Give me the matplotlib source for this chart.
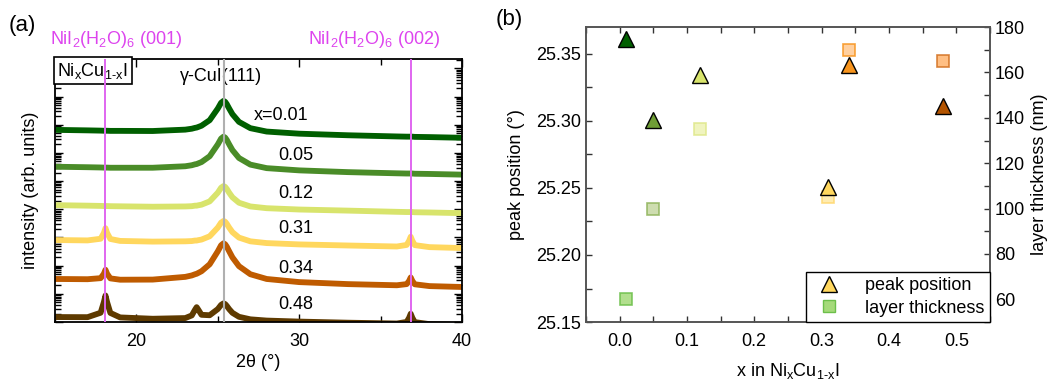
import matplotlib
matplotlib.use('Agg')
import matplotlib.pyplot as plt
from matplotlib.lines import Line2D
from matplotlib.ticker import LogLocator, NullFormatter, MultipleLocator
import numpy as np

plt.rcParams['font.family'] = ['Liberation Sans', 'DejaVu Sans']
plt.rcParams['mathtext.fontset'] = 'custom'
plt.rcParams['mathtext.rm'] = 'Liberation Sans'
plt.rcParams['mathtext.it'] = 'Liberation Sans'
plt.rcParams['font.size'] = 13

# ---------------- (a) XRD scans ----------------
two_theta = [15, 17, 17.8, 18.0, 18.1, 18.2, 18.4, 19, 21, 23, 23.4, 23.6, 23.7,
             23.8, 24.0, 24.5, 25.0, 25.2, 25.35, 25.45, 25.55, 25.7, 25.9, 26.3,
             27, 28, 30, 33, 36, 36.6, 36.75, 36.85, 36.95, 37.1, 38, 40]

i_001 = [101, 97, 95, 94, 94, 94, 93, 93, 92, 103, 111, 119, 122, 128, 142, 223,
         577, 921, 1076, 1001, 830, 575, 363, 194, 116, 88, 74, 65, 59, 58, 58,
         58, 58, 57, 56, 53]
i_005 = [101, 97, 95, 94, 94, 94, 93, 93, 93, 105, 114, 123, 126, 133, 148, 238,
         627, 1006, 1176, 1094, 905, 625, 392, 206, 120, 90, 75, 65, 59, 58, 58,
         58, 58, 57, 56, 53]
i_012 = [100, 96, 94, 93, 93, 93, 92, 91, 88, 90, 92, 96, 96, 99, 104, 136, 277,
         414, 476, 446, 378, 275, 190, 122, 90, 78, 70, 64, 58, 57, 57, 57, 57,
         56, 55, 52]
i_031 = [100, 97, 111, 178, 263, 178, 109, 93, 88, 90, 92, 96, 96, 99, 104, 136,
         277, 414, 476, 446, 378, 275, 190, 122, 90, 78, 70, 64, 59, 67, 94, 131,
         94, 66, 56, 52]
i_034 = [102, 100, 109, 156, 216, 156, 107, 96, 97, 121, 136, 150, 156, 167, 192,
         339, 977, 1597, 1876, 1741, 1433, 975, 593, 290, 150, 102, 79, 67, 61,
         67, 87, 116, 87, 66, 57, 53]
i_048 = [100, 99, 142, 337, 582, 337, 140, 97, 87, 92, 114, 182, 224, 183, 120,
         116, 192, 270, 306, 289, 249, 190, 141, 102, 83, 75, 69, 63, 59, 67, 94,
         131, 94, 66, 56, 52]

scans = [i_001, i_005, i_012, i_031, i_034, i_048]
scan_labels = ['x=0.01', '0.05', '0.12', '0.31', '0.34', '0.48']
offsets = [6.5e4, 3.2e3, 140, 8.1, 0.33, 0.015]
scan_colors = ['#005f00', '#4a8c28', '#d8e46c', '#ffd75e', '#bf5b00', '#5e3a00']
label_x = [27.2, 28.7, 28.7, 28.7, 28.7, 28.7]
label_y = [0.787, 0.635, 0.49, 0.357, 0.205, 0.065]

# ---------------- (b) peak position / thickness ----------------
x_ni = [0.01, 0.05, 0.12, 0.31, 0.34, 0.48]
peak_pos = [25.361, 25.301, 25.334, 25.251, 25.342, 25.311]
thickness = [60, 100, 135, 105, 170, 165]
tri_colors = ['#005f00', '#6f9d35', '#d8e46c', '#ffd75e', '#f7941d', '#b35400']
sq_face = ['#a5da7a', '#c6d8a2', '#eef3b4', '#ffe9a4', '#ffc890', '#ffb46e']
sq_edge = ['#6cbf4a', '#8fb45a', '#dfe88a', '#ffd870', '#f7941d', '#d27020']

fig = plt.figure(figsize=(10.5, 3.8), dpi=100)

ax = fig.add_axes([0.0524, 0.1526, 0.3876, 0.692])
for vals, off, col in zip(scans, offsets, scan_colors):
    ax.plot(two_theta, np.array(vals) * off, color=col, lw=4.2,
            solid_joinstyle='round')
ax.axvline(25.4, color='#b0b0b0', lw=1.5, zorder=5)
ax.axvline(18.1, color='#e066f0', lw=1.4, zorder=5)
ax.axvline(36.85, color='#e066f0', lw=1.4, zorder=5)
ax.set_yscale('log')
ax.set_xlim(15, 40)
ax.set_ylim(1, 10 ** 9.33)
ax.set_xticks([20, 30, 40])
ax.xaxis.set_minor_locator(MultipleLocator(5))
ax.yaxis.set_major_locator(LogLocator(base=10, numticks=20))
ax.yaxis.set_minor_locator(LogLocator(base=10, subs=np.arange(2, 10), numticks=20))
ax.yaxis.set_major_formatter(NullFormatter())
ax.yaxis.set_minor_formatter(NullFormatter())
ax.tick_params(which='both', direction='in', top=True, right=True)
ax.tick_params(which='major', length=6, width=1)
ax.tick_params(which='minor', length=4, width=1)
ax.tick_params(axis='x', which='major', pad=8)
for s in ax.spines.values():
    s.set_linewidth(1.3)
ax.set_xlabel('2θ (°)', labelpad=3)
ax.set_ylabel('intensity (arb. units)', labelpad=8)

for lab, lx, ly in zip(scan_labels, label_x, label_y):
    ax.text(lx, ly, lab, transform=ax.get_xaxis_transform(), ha='left',
            va='center', fontsize=13)
ax.text(25.2, 0.935, 'γ-CuI(111)', transform=ax.get_xaxis_transform(),
        ha='center', va='center', fontsize=13)
ax.text(0.006, 0.994, r'Ni$_x$Cu$_{1\text{-}x}$I', transform=ax.transAxes,
        ha='left', va='top', fontsize=13,
        bbox=dict(boxstyle='square,pad=0.2', fc='white', ec='black', lw=1.2))
fig.text(50 / 1050, 1 - 40 / 380, r'NiI$_2$(H$_2$O)$_6$ (001)', color='#dd44ee',
         ha='left', va='center', fontsize=13)
fig.text(308 / 1050, 1 - 40 / 380, r'NiI$_2$(H$_2$O)$_6$ (002)', color='#dd44ee',
         ha='left', va='center', fontsize=13)
fig.text(9 / 1050, 1 - 25 / 380, '(a)', fontsize=16, ha='left', va='center')
fig.text(496 / 1050, 1 - 20 / 380, '(b)', fontsize=16, ha='left', va='center')

# panel b
axb = fig.add_axes([0.558, 0.1526, 0.3848, 0.776])
axr = axb.twinx()
for xv, yv, c in zip(x_ni, thickness, range(6)):
    axr.plot(xv, yv, 's', ms=8.5, mfc=sq_face[c], mec=sq_edge[c], mew=1.2,
             alpha=0.85)
for xv, yv, c in zip(x_ni, peak_pos, tri_colors):
    axb.plot(xv, yv, '^', ms=11, mfc=c, mec='black', mew=1.0)
axb.set_zorder(axr.get_zorder() + 1)
axb.patch.set_visible(False)

axb.set_xlim(-0.05, 0.55)
axb.set_ylim(25.15, 25.37)
axr.set_ylim(50, 180)
axb.set_xticks([0.0, 0.1, 0.2, 0.3, 0.4, 0.5])
axb.xaxis.set_minor_locator(MultipleLocator(0.05))
axb.set_yticks([25.15, 25.20, 25.25, 25.30, 25.35])
axb.yaxis.set_minor_locator(MultipleLocator(0.025))
axr.set_yticks([60, 80, 100, 120, 140, 160, 180])
axr.yaxis.set_minor_locator(MultipleLocator(10))
axb.tick_params(which='both', direction='in', top=True, length=4, width=1,
                color='#333333')
axr.tick_params(which='both', direction='in', length=4, width=1, color='#333333')
axb.tick_params(axis='x', pad=8)
for a in (axb, axr):
    for s in a.spines.values():
        s.set_color('#555555')
        s.set_linewidth(1.2)
axb.set_xlabel(r'x in Ni$_x$Cu$_{1\text{-}x}$I', labelpad=8)
axb.set_ylabel('peak position (°)', labelpad=8)
axr.set_ylabel('layer thickness (nm)', labelpad=4)

handles = [Line2D([], [], ls='none', marker='^', ms=11, mfc='#ffd75e', mec='black'),
           Line2D([], [], ls='none', marker='s', ms=8.5, mfc='#a5da7a', mec='#6cbf4a')]
leg = axb.legend(handles, ['peak position', 'layer thickness'], loc='lower right',
                 fancybox=False, edgecolor='black', framealpha=1,
                 borderaxespad=0, handletextpad=1.0, borderpad=0.3,
                 labelspacing=0.3, fontsize=13)
leg.get_frame().set_linewidth(1.0)

fig.savefig('out.png', dpi=100)
